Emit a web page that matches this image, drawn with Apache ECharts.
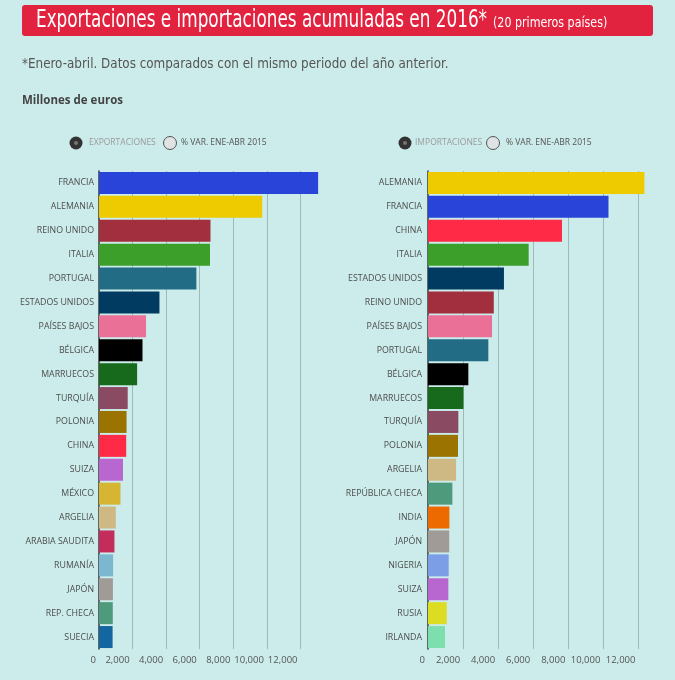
<!DOCTYPE html>
<html>
<head>
<meta charset="utf-8">
<script src="https://cdn.jsdelivr.net/npm/echarts@6/dist/echarts.min.js"></script>
<style>
html,body{margin:0;padding:0;background:#cbecea;}
#c{width:675px;height:680px;}
</style>
</head>
<body>
<div id="c"></div>
<script>
// ---- Data ----
const exportCountries = ['FRANCIA','ALEMANIA','REINO UNIDO','ITALIA','PORTUGAL','ESTADOS UNIDOS','PAÍSES BAJOS','BÉLGICA','MARRUECOS','TURQUÍA','POLONIA','CHINA','SUIZA','MÉXICO','ARGELIA','ARABIA SAUDITA','RUMANÍA','JAPÓN','REP. CHECA','SUECIA'];
const exportValues = [13050, 9720, 6640, 6610, 5800, 3600, 2800, 2590, 2270, 1710, 1640, 1620, 1430, 1280, 1000, 920, 840, 830, 820, 810];
const importCountries = ['ALEMANIA','FRANCIA','CHINA','ITALIA','ESTADOS UNIDOS','REINO UNIDO','PAÍSES BAJOS','PORTUGAL','BÉLGICA','MARRUECOS','TURQUÍA','POLONIA','ARGELIA','REPÚBLICA CHECA','INDIA','JAPÓN','NIGERIA','SUIZA','RUSIA','IRLANDA'];
const importValues = [12340, 10290, 7640, 5740, 4330, 3750, 3650, 3440, 2300, 2020, 1730, 1710, 1600, 1390, 1220, 1210, 1180, 1160, 1070, 970];
const tickLabels = ['0','2,000','4,000','6,000','8,000','10,000','12,000'];

// ---- Styles ----
const colorMap = {
  'FRANCIA':'#2944d9','ALEMANIA':'#edcb00','REINO UNIDO':'#a12f3e','ITALIA':'#3b9f2a',
  'PORTUGAL':'#236c86','ESTADOS UNIDOS':'#023b62','PAÍSES BAJOS':'#eb7097','BÉLGICA':'#000000',
  'MARRUECOS':'#176a1b','TURQUÍA':'#8a4a62','POLONIA':'#9b7300','CHINA':'#ff2a46',
  'SUIZA':'#b866d0','MÉXICO':'#d5b531','ARGELIA':'#ceb985','ARABIA SAUDITA':'#c32d5b',
  'RUMANÍA':'#7bb8d0','JAPÓN':'#a19b97','REP. CHECA':'#4e9a7c','SUECIA':'#1466a0',
  'REPÚBLICA CHECA':'#4e9a7c','INDIA':'#ec6a00','NIGERIA':'#7c9ee6','RUSIA':'#dcdc22','IRLANDA':'#7edfae'
};
const FONT = "'DejaVu Sans Condensed','Noto Sans',sans-serif";
const LBL = "'Open Sans','Noto Sans',sans-serif";
const gridColor = '#9fb9b7';

function makeX(gi, max){
  return {
    type:'value', gridIndex:gi, min:0, max:max, interval:2000,
    axisLine:{show:false}, axisTick:{show:false},
    splitLine:{show:true, showMinLine:false, showMaxLine:false, lineStyle:{color:gridColor, width:1}},
    axisLabel:{
      showMaxLabel:false, align:'right', margin:6, padding:[0,3,0,0],
      color:'#555', fontSize:9.5, fontFamily:LBL,
      formatter:(v)=> tickLabels[v/2000] !== undefined ? tickLabels[v/2000] : ''
    }
  };
}

const chart = echarts.init(document.getElementById('c'), null, {renderer:'canvas'});
const option = {
  backgroundColor:'#cbecea',
  animation:false,
  grid:[
    {left:99, top:171, width:225, height:478},
    {left:428, top:171, width:221, height:478}
  ],
  xAxis:[makeX(0,13400), makeX(1,12600)],
  yAxis:[0,1].map(gi=>({
    type:'category', gridIndex:gi, inverse:true,
    data: gi===0 ? exportCountries : importCountries,
    axisLine:{show:true, lineStyle:{color:'#3a3a3a', width:1.5}},
    axisTick:{show:false},
    axisLabel:{color:'#4d4d4d', fontSize:8.8, fontFamily:LBL, margin: gi===0 ? 5 : 6}
  })),
  series:[
    {type:'bar', xAxisIndex:0, yAxisIndex:0, barCategoryGap:'8%',
     data: exportValues.map((v,i)=>({value:v, itemStyle:{color:colorMap[exportCountries[i]]}}))},
    {type:'bar', xAxisIndex:1, yAxisIndex:1, barCategoryGap:'8%',
     data: importValues.map((v,i)=>({value:v, itemStyle:{color:colorMap[importCountries[i]]}}))}
  ],
  graphic:[
    {type:'rect', shape:{x:22,y:5,width:631,height:31,r:3}, style:{fill:'#e2233f'}},
    {type:'text', x:36, y:21, scaleX:0.78, style:{text:'Exportaciones e importaciones acumuladas en 2016*', fill:'#fff', font:"24px "+FONT, textVerticalAlign:'middle'}},
    {type:'text', x:493, y:23, scaleX:0.85, style:{text:'(20 primeros países)', fill:'#fff', font:"14.5px "+FONT, textVerticalAlign:'middle'}},
    {type:'text', x:22, y:64, scaleX:0.95, style:{text:'*Enero-abril. Datos comparados con el mismo periodo del año anterior.', fill:'#555', font:"14px "+FONT, textVerticalAlign:'middle'}},
    {type:'text', x:22, y:101, style:{text:'Millones de euros', fill:'#444', font:"bold 11.5px "+LBL, textVerticalAlign:'middle'}},
    // legend left
    {type:'circle', shape:{cx:76,cy:143,r:6.5}, style:{fill:'#333'}},
    {type:'circle', shape:{cx:76,cy:143,r:2}, style:{fill:'#777'}},
    {type:'text', x:89, y:143, style:{text:'EXPORTACIONES', fill:'#9a9a9a', font:"8.5px "+LBL, textVerticalAlign:'middle'}},
    {type:'circle', shape:{cx:170,cy:143,r:6.5}, style:{fill:'#dfe3e3', stroke:'#555', lineWidth:1}},
    {type:'text', x:181, y:143, style:{text:'% VAR. ENE-ABR 2015', fill:'#555', font:"8.5px "+LBL, textVerticalAlign:'middle'}},
    // legend right
    {type:'circle', shape:{cx:405,cy:143,r:6.5}, style:{fill:'#333'}},
    {type:'circle', shape:{cx:405,cy:143,r:2}, style:{fill:'#777'}},
    {type:'text', x:415, y:143, style:{text:'IMPORTACIONES', fill:'#9a9a9a', font:"8.5px "+LBL, textVerticalAlign:'middle'}},
    {type:'circle', shape:{cx:493,cy:143,r:6.5}, style:{fill:'#dfe3e3', stroke:'#555', lineWidth:1}},
    {type:'text', x:506, y:143, style:{text:'% VAR. ENE-ABR 2015', fill:'#555', font:"8.5px "+LBL, textVerticalAlign:'middle'}}
  ]
};
chart.setOption(option);
</script>
</body>
</html>
